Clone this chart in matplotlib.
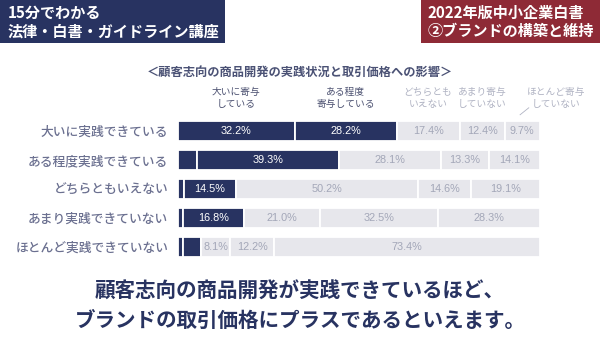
import matplotlib
matplotlib.use("Agg")
import matplotlib.pyplot as plt
from matplotlib.patches import Rectangle
from matplotlib.lines import Line2D
import numpy as np

plt.rcParams['font.family'] = ['Noto Sans CJK JP', 'DejaVu Sans']

rows = ["大いに実践できている", "ある程度実践できている", "どちらともいえない",
        "あまり実践できていない", "ほとんど実践できていない"]
series = ["大いに寄与\nしている", "ある程度\n寄与している", "どちらとも\nいえない",
          "あまり寄与\nしていない", "ほとんど寄与\nしていない"]
s_great = [32.2, 5.2, 1.6, 1.4, 1.3]
s_some = [28.2, 39.3, 14.5, 16.8, 5.0]
s_neutral = [17.4, 28.1, 50.2, 21.0, 8.1]
s_little = [12.4, 13.3, 14.6, 32.5, 12.2]
s_none = [9.7, 14.1, 19.1, 28.3, 73.4]
values = [s_great, s_some, s_neutral, s_little, s_none]

title = "＜顧客志向の商品開発の実践状況と取引価格への影響＞"
header_left = "15分でわかる\n法律・白書・ガイドライン講座"
header_right = "2022年版中小企業白書\n②ブランドの構築と維持"
message = "顧客志向の商品開発が実践できているほど、\nブランドの取引価格にプラスであるといえます。"

NAVY = "#283361"
RED = "#8e2a36"
LIGHT = "#e7e7ec"
colors = [NAVY, NAVY, LIGHT, LIGHT, LIGHT]
txt_colors = ["white", "white", "#a3a7b8", "#a3a7b8", "#a3a7b8"]
head_colors = ["#4b5070", "#4b5070", "#b0b3c3", "#b0b3c3", "#b0b3c3"]

W, H = 600, 338
fig = plt.figure(figsize=(6, 3.38), dpi=100)
fig.patch.set_facecolor("white")

def fx(px):
    return px / W

def fy(py):
    return 1 - py / H

# header boxes
fig.add_artist(Rectangle((0, fy(43)), fx(225), 43 / H, transform=fig.transFigure,
                         facecolor=NAVY, edgecolor="none"))
fig.add_artist(Rectangle((fx(421), fy(43)), fx(179), 43 / H, transform=fig.transFigure,
                         facecolor=RED, edgecolor="none"))
fig.text(fx(8), fy(22), header_left, color="white", fontsize=10.9, fontweight="bold",
         ha="left", va="center", linespacing=1.2)
fig.text(fx(428), fy(22), header_right, color="white", fontsize=10.9, fontweight="bold",
         ha="left", va="center", linespacing=1.2)

fig.text(0.5, fy(72), title, color="#4b5275", fontsize=8.8, fontweight="bold",
         ha="center", va="center")

# bar axes
top_px, bot_px = 116.5, 261.5
ax = fig.add_axes([fx(178), fy(bot_px), fx(362), (bot_px - top_px) / H])
y = np.arange(len(rows))
left = np.zeros(len(rows))
for i, vals in enumerate(values):
    vals = np.array(vals)
    ax.barh(y, vals, left=left, height=0.69, color=colors[i], edgecolor="white",
            linewidth=1.3)
    for j, v in enumerate(vals):
        if v >= 7:
            ax.text(left[j] + v / 2, y[j], f"{v:.1f}%", ha="center", va="center",
                    color=txt_colors[i], fontsize=7.8, family="Liberation Sans")
    # column headers above first row
    cx = left[0] + vals[0] / 2
    if i == 4:
        cx = 104.5
    ax.text(cx, -0.5 - 0.25, series[i], ha="center", va="bottom", color=head_colors[i],
            fontsize=7.0, linespacing=1.3, clip_on=False)
    left += vals

ax.add_line(Line2D([94.5, 96.9], [-0.56, -0.80], color="#b0b3c3", linewidth=0.6,
                   clip_on=False))

ax.set_xlim(0, 100)
ax.set_ylim(len(rows) - 0.5, -0.5)
ax.set_yticks(y)
ax.set_yticklabels(rows, fontsize=9.2, color="#6b7090", fontweight="medium")
ax.tick_params(axis="y", length=0, pad=7)
ax.set_xticks([])
for s in ax.spines.values():
    s.set_visible(False)

fig.text(0.5, fy(306), message, color=NAVY, fontsize=14.8, fontweight="bold",
         ha="center", va="center", linespacing=1.45)

fig.savefig("out.png", dpi=100, facecolor="white")
